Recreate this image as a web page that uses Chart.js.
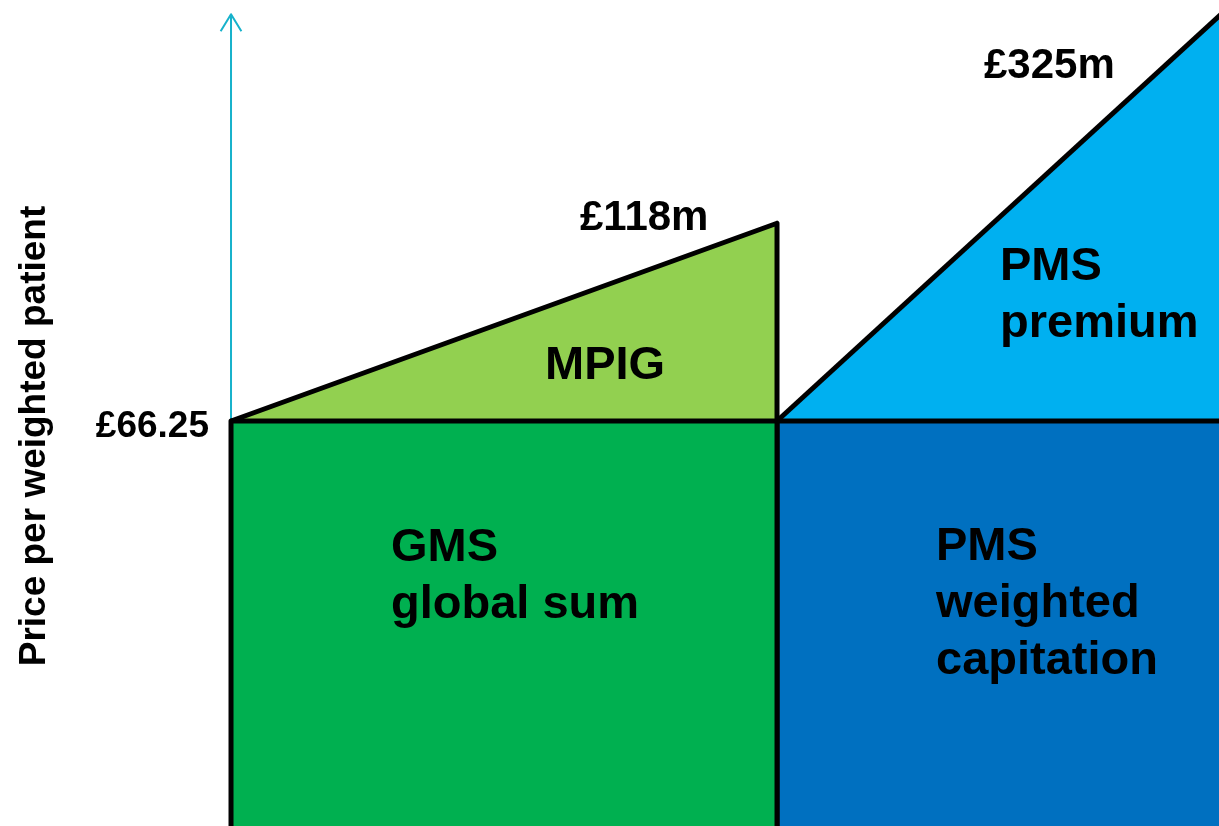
<!DOCTYPE html>
<html>
<head>
<meta charset="utf-8">
<title>GMS / PMS funding</title>
<script src="https://cdn.jsdelivr.net/npm/chart.js@4/dist/chart.umd.min.js"></script>
<style>
  html, body { margin: 0; padding: 0; background: #ffffff; }
  #wrap { width: 1219px; height: 826px; position: relative; }
</style>
</head>
<body>
<div id="wrap"><canvas id="fundingChart"></canvas></div>
<script>
// Price per weighted patient (base price for the global sum)
const basePrice = 66.25;

// GMS block: x 0..1, PMS block: x 1..off the right edge
const gmsX = [0, 0, 1, 1];
const gmsY = [0, 66.25, 66.25, 0];
const pmsX = [1, 1, 1.9];
const pmsY = [0, 66.25, 66.25];

// MPIG wedge on top of GMS, PMS premium wedge on top of PMS
const mpigX = [0, 1, 1];
const mpigY = [66.25, 98.6, 66.25];
const premiumX = [1, 1.9];
const premiumY = [66.25, 139.9];

// vertical axis arrow
const arrowX = [0, 0];
const arrowY = [66.25, 132.8];
const arrowHeadX = [-0.019, 0, 0.019];
const arrowHeadY = [130.0, 132.8, 130.0];

// texts
const axisTitle = 'Price per weighted patient';
const baseLabel = '£66.25';
const mpigTotal = '£118m';
const premiumTotal = '£325m';
const blockNames = {
    mpig: ['MPIG'],
    premium: ['PMS', 'premium'],
    gms: ['GMS', 'global sum'],
    pms: ['PMS', 'weighted', 'capitation']
};

function pts(xs, ys) {
    return xs.map((x, i) => ({ x: x, y: ys[i] }));
}

const FONT = '"Liberation Sans", Arial, Helvetica, sans-serif';

// tekst na wykresie
const textPlugin = {
    id: 'diagramText',
    afterDraw(chart) {
        const ctx = chart.ctx;
        const xs = chart.scales.x;
        const ys = chart.scales.y;
        ctx.save();
        ctx.fillStyle = '#000000';
        ctx.textBaseline = 'alphabetic';

        function lines(arr, x, y, size, step) {
            ctx.font = 'bold ' + size + 'px ' + FONT;
            ctx.textAlign = 'left';
            arr.forEach((t, i) => ctx.fillText(t, x, y + i * step));
        }

        // £66.25 next to the base of the axis
        ctx.font = 'bold 37px ' + FONT;
        ctx.textAlign = 'right';
        ctx.fillText(baseLabel, xs.getPixelForValue(0) - 22, ys.getPixelForValue(basePrice) + 16);

        // totals
        ctx.font = 'bold 42px ' + FONT;
        ctx.textAlign = 'left';
        ctx.fillText(mpigTotal, 580, 230);
        ctx.fillText(premiumTotal, 984, 78);

        lines(blockNames.mpig, 545, 379, 47, 57);
        lines(blockNames.premium, 1000, 280, 47, 57);
        lines(blockNames.gms, 391, 561, 47, 57);
        lines(blockNames.pms, 936, 560, 47, 57);

        // axis title, rotated
        ctx.translate(45, 436);
        ctx.rotate(-Math.PI / 2);
        ctx.font = 'bold 37px ' + FONT;
        ctx.textAlign = 'center';
        ctx.fillText(axisTitle, 0, 0);
        ctx.restore();
    }
};

document.addEventListener('DOMContentLoaded', function() {
    const ctx = document.getElementById('fundingChart').getContext('2d');
    new Chart(ctx, {
        type: 'line',
        data: {
            datasets: [
                {
                    label: 'GMS global sum',
                    data: pts(gmsX, gmsY),
                    backgroundColor: '#00b050',
                    borderColor: '#000000',
                    borderWidth: 5,
                    fill: 'origin'
                },
                {
                    label: 'PMS weighted capitation',
                    data: pts(pmsX, pmsY),
                    backgroundColor: '#0070c0',
                    borderColor: '#000000',
                    borderWidth: 5,
                    fill: 'origin'
                },
                {
                    label: 'MPIG',
                    data: pts(mpigX, mpigY),
                    backgroundColor: '#92d050',
                    borderColor: '#000000',
                    borderWidth: 5,
                    fill: { value: basePrice }
                },
                {
                    label: 'PMS premium',
                    data: pts(premiumX, premiumY),
                    backgroundColor: '#00b0f0',
                    borderColor: '#000000',
                    borderWidth: 5,
                    fill: { value: basePrice }
                },
                {
                    label: 'axis',
                    data: pts(arrowX, arrowY),
                    borderColor: '#17b2cb',
                    borderWidth: 2,
                    fill: false
                },
                {
                    label: 'arrow head',
                    data: pts(arrowHeadX, arrowHeadY),
                    borderColor: '#17b2cb',
                    borderWidth: 2,
                    fill: false
                }
            ]
        },
        options: {
            responsive: true,
            maintainAspectRatio: false,
            animation: false,
            layout: { padding: 0 },
            elements: {
                point: { radius: 0, hoverRadius: 0 },
                line: { tension: 0, borderJoinStyle: 'round', borderCapStyle: 'butt' }
            },
            scales: {
                x: { type: 'linear', min: -0.4231, max: 1.8095, display: false },
                y: { type: 'linear', min: 0, max: 135.12, display: false }
            },
            plugins: {
                legend: { display: false },
                tooltip: { enabled: false },
                title: { display: false }
            }
        },
        plugins: [textPlugin]
    });
});
</script>
</body>
</html>
